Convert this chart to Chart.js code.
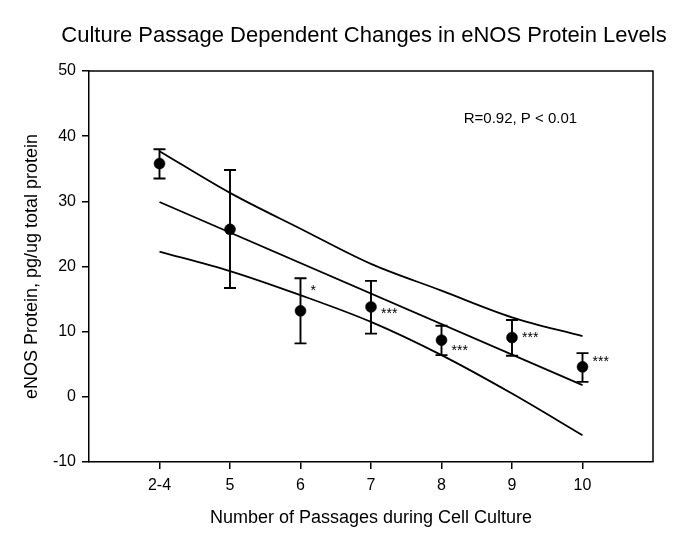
<!DOCTYPE html>
<html>
<head>
<meta charset="utf-8">
<script src="https://cdn.jsdelivr.net/npm/chart.js@4.4.0/dist/chart.umd.min.js"></script>
<style>
  body { margin: 0; background: #fff; }
</style>
</head>
<body>
<canvas id="chart" width="684" height="541"></canvas>
<script>
// values
var passages = ['2-4', '5', '6', '7', '8', '9', '10'];
var meanProtein = [35.8, 25.7, 13.2, 13.8, 8.7, 9.1, 4.6];
var errTop = [38.0, 34.8, 18.2, 17.8, 10.9, 11.8, 6.7];
var errBottom = [33.5, 16.7, 8.2, 9.7, 6.4, 6.3, 2.3];
var fitEnds = [29.9, 1.8];           // regression line at first and last passage
var upperBand = [37.7, 31.3, 25.8, 20.4, 16.3, 12.2, 9.3];
var lowerBand = [22.3, 19.3, 15.6, 11.5, 6.4, 0.5, -5.9];
var stars = ['', '', '*', '***', '***', '***', '***'];
var starLevel = [null, null, 16.8, 13.3, 7.6, 9.7, 6.0];
var yTicks = [-10, 0, 10, 20, 30, 40, 50];
var titleText = 'Culture Passage Dependent Changes in eNOS Protein Levels';
var statText = 'R=0.92, P < 0.01';

var FONT = "'Liberation Sans', Arial, sans-serif";

function pts(arr) {
    return arr.map(function (v, i) { return { x: i, y: v }; });
}

var extras = {
    id: 'extras',
    afterDatasetsDraw: function (chart) {
        var ctx = chart.ctx;
        var xs = chart.scales.x, ys = chart.scales.y;
        var a = chart.chartArea;
        ctx.save();
        ctx.strokeStyle = '#000';
        // frame top and right
        ctx.lineWidth = 1.5;
        ctx.beginPath();
        ctx.moveTo(a.left, a.top);
        ctx.lineTo(a.right, a.top);
        ctx.lineTo(a.right, a.bottom);
        ctx.stroke();
        // error bars
        ctx.lineWidth = 1.9;
        for (var i = 0; i < passages.length; i++) {
            var px = xs.getPixelForValue(i);
            var t = ys.getPixelForValue(errTop[i]);
            var b = ys.getPixelForValue(errBottom[i]);
            ctx.beginPath();
            ctx.moveTo(px, t); ctx.lineTo(px, b);
            ctx.moveTo(px - 6, t); ctx.lineTo(px + 6, t);
            ctx.moveTo(px - 6, b); ctx.lineTo(px + 6, b);
            ctx.stroke();
        }
        // significance stars
        ctx.fillStyle = '#000';
        ctx.font = '14px ' + FONT;
        ctx.textAlign = 'left';
        ctx.textBaseline = 'alphabetic';
        for (var j = 0; j < stars.length; j++) {
            if (!stars[j]) continue;
            ctx.fillText(stars[j], xs.getPixelForValue(j) + 10, ys.getPixelForValue(starLevel[j]) + 8);
        }
        // statistics text
        ctx.font = '15px ' + FONT;
        ctx.textAlign = 'center';
        ctx.textBaseline = 'middle';
        ctx.fillText(statText, xs.getPixelForValue(5.12), ys.getPixelForValue(42.7));
        // title
        ctx.font = '22px ' + FONT;
        ctx.fillText(titleText, 364, 36);
        ctx.restore();
    }
};

new Chart(document.getElementById('chart'), {
    type: 'scatter',
    data: {
        datasets: [{
            label: 'eNOS protein',
            data: pts(meanProtein),
            backgroundColor: '#000',
            borderColor: '#000',
            pointRadius: 5.5,
            borderWidth: 0.5
        }, {
            label: 'Regression',
            type: 'line',
            data: [{ x: 0, y: fitEnds[0] }, { x: passages.length - 1, y: fitEnds[1] }],
            borderColor: '#000',
            borderWidth: 1.8,
            pointRadius: 0,
            fill: false
        }, {
            label: 'Upper 95%',
            type: 'line',
            data: pts(upperBand),
            borderColor: '#000',
            borderWidth: 1.8,
            pointRadius: 0,
            cubicInterpolationMode: 'monotone',
            fill: false
        }, {
            label: 'Lower 95%',
            type: 'line',
            data: pts(lowerBand),
            borderColor: '#000',
            borderWidth: 1.8,
            pointRadius: 0,
            cubicInterpolationMode: 'monotone',
            fill: false
        }]
    },
    options: {
        responsive: false,
        animation: false,
        layout: { padding: { top: 71, right: 31, bottom: 0, left: 0 } },
        plugins: {
            legend: { display: false },
            tooltip: { enabled: false },
            title: { display: false }
        },
        scales: {
            x: {
                type: 'linear',
                min: -1,
                max: passages.length,
                afterBuildTicks: function (scale) {
                    scale.ticks = passages.map(function (p, i) { return { value: i }; });
                },
                afterFit: function (scale) { scale.height = 79; },
                ticks: {
                    color: '#000',
                    font: { family: FONT, size: 16 },
                    padding: 7,
                    maxRotation: 0,
                    callback: function (v) { return passages[v]; }
                },
                grid: { drawOnChartArea: false, drawTicks: true, tickLength: 7, color: '#000', lineWidth: 1.5 },
                border: { display: true, color: '#000', width: 1.5 },
                title: {
                    display: true,
                    text: 'Number of Passages during Cell Culture',
                    color: '#000',
                    font: { family: FONT, size: 18 },
                    padding: { top: 0, bottom: 12 }
                }
            },
            y: {
                min: yTicks[0],
                max: yTicks[yTicks.length - 1],
                afterBuildTicks: function (scale) {
                    scale.ticks = yTicks.map(function (v) { return { value: v }; });
                },
                afterFit: function (scale) { scale.width = 89; },
                ticks: {
                    color: '#000',
                    font: { family: FONT, size: 16 },
                    padding: 6
                },
                grid: { drawOnChartArea: false, drawTicks: true, tickLength: 7, color: '#000', lineWidth: 1.5 },
                border: { display: true, color: '#000', width: 1.5 },
                title: {
                    display: true,
                    text: 'eNOS Protein, pg/ug total protein',
                    color: '#000',
                    font: { family: FONT, size: 18 },
                    padding: { top: 21, bottom: 0 }
                }
            }
        }
    },
    plugins: [extras]
});
</script>
</body>
</html>
